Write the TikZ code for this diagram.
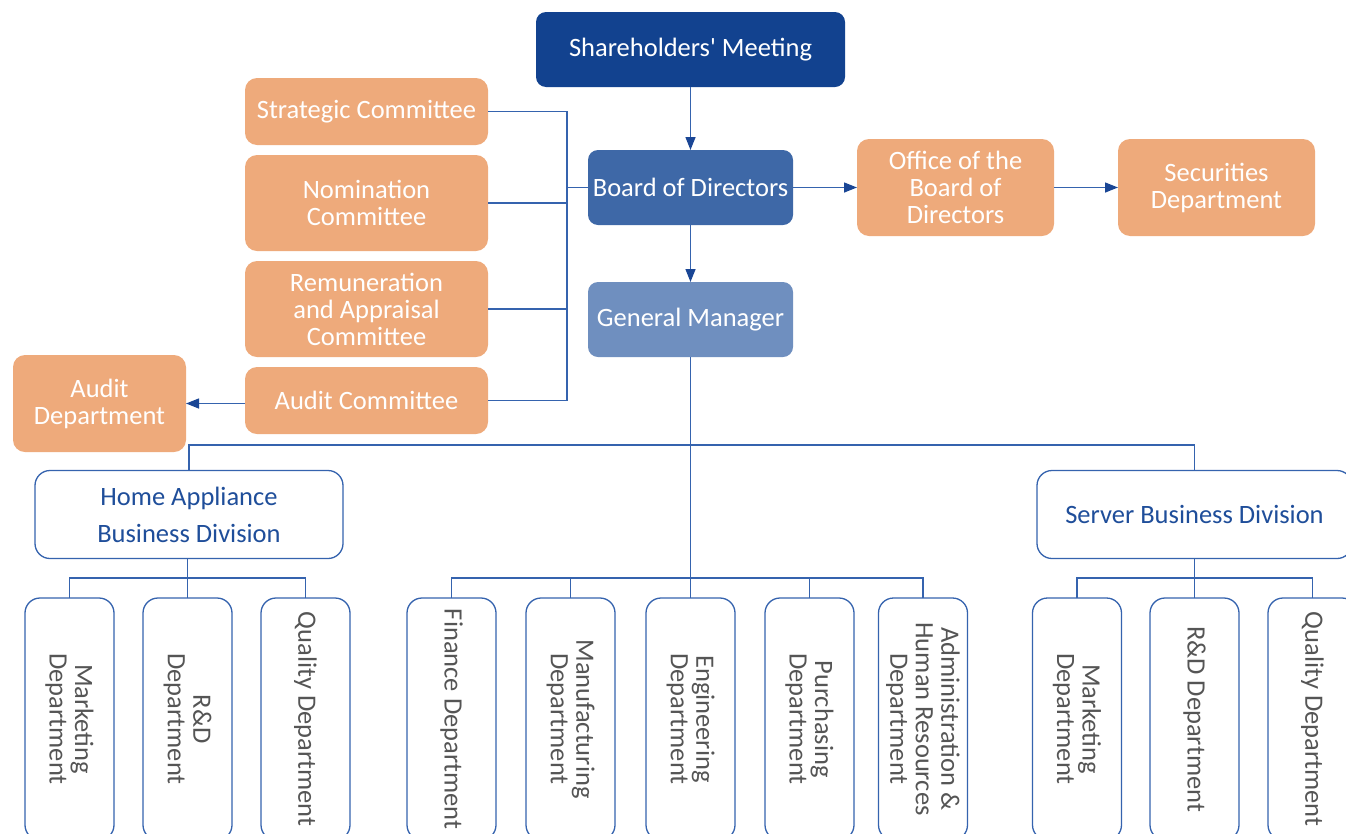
\documentclass[tikz,border=0pt]{standalone}
\usepackage{fontspec}
\setmainfont{Carlito}
\usetikzlibrary{arrows.meta}

\definecolor{shareblue}{HTML}{12428F}
\definecolor{boardblue}{HTML}{3E68A7}
\definecolor{gmblue}{HTML}{6F8FBF}
\definecolor{orangebox}{HTML}{EEAA7B}
\definecolor{linkblue}{HTML}{3563AE}
\definecolor{tipblue}{HTML}{1A4695}
\definecolor{divtext}{HTML}{1F4E9A}
\definecolor{depttext}{HTML}{555555}

\tikzset{
  base/.style={inner sep=0pt, outer sep=0pt, align=center,
    font=\fontsize{26.5}{27}\selectfont},
  lead/.style={base, rounded corners=10, text=white},
  comm/.style={base, fill=orangebox, rounded corners=12, text=white},
  divbox/.style={base, draw=linkblue, line width=1.3pt, fill=white,
    rounded corners=15, text=divtext, font=\fontsize{26.5}{37}\selectfont},
  deptbox/.style={base, draw=linkblue, line width=1.3pt, fill=white,
    rounded corners=15, rotate=-90, minimum width=242, minimum height=89,
    text=depttext, font=\fontsize{26.5}{25.5}\selectfont},
  link/.style={draw=linkblue, line width=1.4pt},
  arr/.style={link, -{Triangle[length=13pt,width=10pt,color=tipblue]}},
}

\begin{document}
\begin{tikzpicture}[x=1pt, y=-1pt]
\useasboundingbox (0,0) rectangle (1346,833);
\clip (0,0) rectangle (1346,833);

% governance chain
\node[lead, fill=shareblue, minimum width=309, minimum height=75] (share) at (690.5,49.5) {Shareholders\textquotesingle{} Meeting};
\node[lead, fill=boardblue, minimum width=205, minimum height=75] (board) at (690.5,187.5) {Board of Directors};
\node[lead, fill=gmblue, minimum width=205, minimum height=75] (gm) at (690.5,319.5) {General Manager};

% committees of the board
\node[comm, minimum width=243, minimum height=67] (strat) at (366.5,111.5) {Strategic Committee};
\node[comm, minimum width=243, minimum height=96] (nom) at (366.5,203) {Nomination\\Committee};
\node[comm, minimum width=243, minimum height=96] (rem) at (366.5,309) {Remuneration\\and Appraisal\\Committee};
\node[comm, minimum width=243, minimum height=67] (audc) at (366.5,400.5) {Audit Committee};
\node[comm, minimum width=173, minimum height=97] (auddept) at (99.5,403.5) {Audit\\Department};

% board offices
\node[comm, minimum width=197, minimum height=97] (office) at (955.5,187.5) {Office of the\\Board of\\Directors};
\node[comm, minimum width=197, minimum height=97] (sec) at (1216.5,187.5) {Securities\\Department};

% business divisions
\node[divbox, minimum width=308, minimum height=88] (home) at (189,514.5) {Home Appliance\\Business Division};
\node[divbox, minimum width=315, minimum height=88] (server) at (1194.5,514.5) {Server Business Division};

% departments
\node[deptbox] (hm) at (69.5,719) {Marketing\\Department};
\node[deptbox] (hr) at (187.5,719) {R\&D\\Department};
\node[deptbox] (hq) at (305.5,719) {Quality Department};
\node[deptbox] (fin) at (451.5,719) {Finance Department};
\node[deptbox] (manu) at (570.5,719) {Manufacturing\\Department};
\node[deptbox] (eng) at (690.5,719) {Engineering\\Department};
\node[deptbox] (pur) at (809.5,719) {Purchasing\\Department};
\node[deptbox] (adm) at (923,719) {Administration \&\\Human Resources\\Department};
\node[deptbox] (sm) at (1077,719) {Marketing\\Department};
\node[deptbox] (sr) at (1194.5,719) {R\&D Department};
\node[deptbox] (sq) at (1312.5,719) {Quality Department};

% bus coordinates
\coordinate (cbus) at (567,187.5);
\coordinate (topbus) at (690.5,445);
\coordinate (midbus) at (690.5,578);
\coordinate (hbus) at (187.5,578);
\coordinate (sbus) at (1194.5,578);

% arrows
\draw[arr] (share) -- (board);
\draw[arr] (board) -- (gm);
\draw[arr] (board) -- (office);
\draw[arr] (office) -- (sec);
\draw[arr] (audc.west |- auddept.east) -- (auddept.east);

% committee bus
\draw[link] (strat.east) -| (cbus);
\draw[link] (audc.east) -| (cbus);
\draw[link] (nom.east) -- (nom.east -| cbus);
\draw[link] (rem.east) -- (rem.east -| cbus);
\draw[link] (cbus) -- (board.west);

% general manager tree
\draw[link] (gm.south) -- (eng.west);
\draw[link] (home.north) |- (topbus) -| (server.north);
\draw[link] (fin.west) |- (midbus) -| (adm.west);
\draw[link] (manu.west) -- (manu.west |- midbus);
\draw[link] (pur.west) -- (pur.west |- midbus);

% division trees
\draw[link] (hr.west |- home.south) -- (hr.west);
\draw[link] (hm.west) |- (hbus) -| (hq.west);
\draw[link] (server.south) -- (sr.west);
\draw[link] (sm.west) |- (sbus) -| (sq.west);
\end{tikzpicture}
\end{document}
